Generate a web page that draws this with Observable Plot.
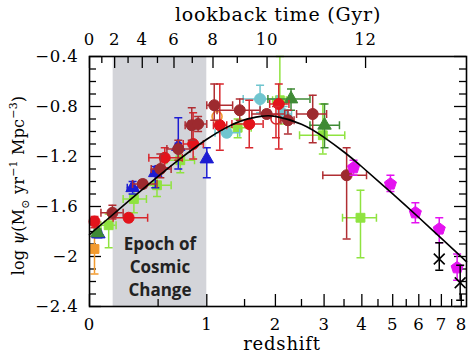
<!DOCTYPE html>
<html><head><meta charset="utf-8">
<script src="https://cdn.jsdelivr.net/npm/d3@7"></script>
<script src="https://cdn.jsdelivr.net/npm/@observablehq/plot@0.6"></script>
<style>body{margin:0;background:#fff}</style>
</head><body><div id="chart"></div>
<script>
// ---- fit curve ----
const fitZ      = [0, 0.05, 0.1, 0.2, 0.3, 0.4, 0.5, 0.7, 1, 1.25, 1.5, 1.75, 2, 2.5, 3, 3.5, 4, 5, 6, 7, 8, 8.28];
const fitLogPsi = [-1.825, -1.768, -1.714, -1.613, -1.521, -1.437, -1.359, -1.223, -1.062, -0.967, -0.907, -0.879, -0.879, -0.942, -1.047, -1.164, -1.282, -1.499, -1.688, -1.855, -2.003, -2.041];

// ---- data points: [z, logψ, zlo, zhi, logψ upper end, logψ lower end] ----
const orangeSquares = [[0.03, -1.94, 0.01, 0.05, -1.84, -2.14]];
const orangeOpen    = [[1.125, -0.88]];
const lightGreen = [
  [0.12, -1.75, 0.07, 0.17, -1.66, -1.93],
  [0.30, -1.54, 0.22, 0.40, -1.45, -1.65],
  [0.49, -1.43, 0.37, 0.62, -1.35, -1.52],
  [0.71, -1.23, 0.58, 0.86, -1.15, -1.33],
  [1.40, -0.97, 1.20, 1.60, -0.90, -1.05],
  [2.08, -0.75, 1.95, 2.20, -0.40, -0.94],
  [2.97, -1.03, 2.46, 3.52, -0.78, -1.18],
  [3.96, -1.69, 3.46, 4.45, -1.47, -2.01]
];
const cyanCircles = [
  [1.25, -1.01, 1.10, 1.43, -0.98, -1.04],
  [1.74, -0.74, 1.48, 2.03, -0.63, -0.85],
  [2.15, -0.86, 2.05, 2.30, -0.80, -0.90]
];
const blueTriangles = [
  [0.054, -1.82, 0.04, 0.07, -1.80, -1.85],
  [0.29, -1.45, 0.25, 0.33, -1.40, -1.50],
  [0.475, -1.33, 0.44, 0.51, -1.28, -1.45],
  [0.69, -1.12, 0.66, 0.72, -0.89, -1.30],
  [1.00, -1.22, null, null, -1.13, -1.37]
];
const darkGreenTriangles = [
  [0.048, -1.81, 0.03, 0.07, -1.78, -1.84],
  [2.29, -0.74, 1.87, 2.68, -0.66, -0.83],
  [3.01, -0.95, 2.68, 3.38, -0.78, -1.13]
];
const redCircles = [
  [0.03, -1.72, 0.01, 0.05, -1.68, -1.77],
  [0.26, -1.69, 0.15, 0.41, -1.66, -1.72],
  [0.56, -1.21, 0.42, 0.73, -1.13, -1.29],
  [0.845, -1.10, 0.74, 0.96, -0.85, -1.22],
  [1.16, -0.95, 1.08, 1.25, -0.62, -1.15],
  [1.57, -0.94, 1.32, 1.79, -0.75, -1.13],
  [2.06, -0.78, 1.90, 2.25, -0.62, -1.14]
];
const redOpen = [[2.01, -0.90, null, null, -0.80, -1.05]];
const brownCircles = [
  [0.145, -1.65, 0.07, 0.22, -1.59, -1.70],
  [0.37, -1.42, 0.29, 0.49, -1.39, -1.45],
  [0.52, -1.30, 0.44, 0.62, -1.18, -1.37],
  [0.69, -1.14, 0.58, 0.81, -1.07, -1.23],
  [0.83, -0.95, 0.76, 0.90, -0.81, -1.07],
  [0.90, -0.94, 0.80, 1.00, -0.88, -1.00],
  [1.09, -0.79, 1.00, 1.33, -0.62, -0.91],
  [1.43, -0.83, 1.125, 1.74, -0.74, -0.91],
  [1.85, -0.86, 1.61, 2.17, -0.83, -0.89],
  [2.23, -0.91, 2.10, 2.35, -0.83, -1.02],
  [2.74, -0.86, 2.40, 3.06, -0.71, -1.09],
  [3.57, -1.35, 2.97, 4.14, -1.13, -1.86]
];
const magentaPentagons = [
  [3.76, -1.29, null, null, -1.23, -1.35],
  [4.92, -1.42, null, null, -1.35, -1.48],
  [5.86, -1.65, null, null, -1.57, -1.73],
  [6.90, -1.78, null, null, -1.69, -1.89],
  [7.78, -2.09, null, null, -1.98, -2.19]
];
const blackCrosses = [
  [6.90, -2.02, null, null, -1.89, -2.11],
  [7.94, -2.21, null, null, -2.07, -2.35]
];

// ---- ticks / labels ----
const zMajorTicks = [0, 1, 2, 3, 4, 5, 6, 7, 8];
const zMinorTicks = [0.5, 1.5, 2.5, 3.5, 4.5, 5.5, 6.5, 7.5];
const lookbackMajor = [0, 2, 4, 6, 8, 10, 12];
const lookbackMinor = [1, 3, 5, 7, 9, 11];
const yMajorTicks = [-0.4, -0.8, -1.2, -1.6, -2, -2.4];
const yMinorTicks = d3.range(-24, -3).filter(k => k % 4 !== 0).map(k => k / 10);
const shadeZ = [0.15, 1];
const epochText = "Epoch of\nCosmic\nChange";
const xTitle = "redshift";
const topTitle = "lookback time (Gyr)";
const yTitle = "log ψ(M⊙ yr−1 Mpc−3)";

const W = 474, H = 355, mL = 89, mR = 8, mT = 56, mB = 49;
const innerW = W - mL - mR, innerH = H - mT - mB;

// flat ΛCDM, H0 = 70, Ωm = 0.3 : lookback time (Gyr) -> 1+z
const A = 2 / (3 * Math.sqrt(0.7)) * 977.8 / 70;
const t0 = A * Math.asinh(Math.sqrt(0.7 / 0.3));
const onePlusZ = tL => Math.pow(Math.sinh((t0 - tL) / A) / Math.sqrt(0.7 / 0.3), -2 / 3);

// custom symbols
const capH = {draw(c, s) { const w = Math.sqrt(s / Math.PI); c.moveTo(-w, 0); c.lineTo(w, 0); }};
const capV = {draw(c, s) { const w = Math.sqrt(s / Math.PI); c.moveTo(0, -w); c.lineTo(0, w); }};
const pentagon = {draw(c, s) {
  const r = Math.sqrt(s / Math.PI) * 1.15;
  for (let i = 0; i < 5; i++) {
    const a = -Math.PI / 2 + i * 2 * Math.PI / 5;
    const px = r * Math.cos(a), py = r * Math.sin(a);
    if (i === 0) c.moveTo(px, py); else c.lineTo(px, py);
  }
  c.closePath();
}};

const series = [
  {rows: orangeSquares, color: "#f29a2e", symbol: "square", r: 5, fill: true},
  {rows: orangeOpen, color: "#f29a2e", symbol: "circle", r: 5, fill: false},
  {rows: lightGreen, color: "#8fe340", symbol: "square", r: 5, fill: true},
  {rows: cyanCircles, color: "#6fc5cf", symbol: "circle", r: 5.5, fill: true},
  {rows: blueTriangles, color: "#1c1cd2", symbol: "triangle", r: 5, fill: true},
  {rows: darkGreenTriangles, color: "#3f8a35", symbol: "triangle", r: 5, fill: true},
  {rows: redCircles, color: "#e3131b", ecolor: "#d8272d", symbol: "circle", r: 5.5, fill: true},
  {rows: redOpen, color: "#d8272d", symbol: "circle", r: 5, fill: false},
  {rows: brownCircles, color: "#9d2a2f", ecolor: "#b02e33", symbol: "circle", r: 5.5, fill: true},
  {rows: magentaPentagons, color: "#e412f0", symbol: pentagon, r: 5.5, fill: true},
  {rows: blackCrosses, color: "#000000", symbol: "times", r: 5, fill: false}
];

const marks = [];
marks.push(Plot.rect([shadeZ], {x1: d => 1 + d[0], x2: d => 1 + d[1], fill: "#d3d4d9"}));

// inward tick marks
const tk = {stroke: "black", strokeWidth: 1.3};
marks.push(Plot.tickY(yMajorTicks, {y: d => d, insetRight: innerW - 12, ...tk}));
marks.push(Plot.tickY(yMajorTicks, {y: d => d, insetLeft: innerW - 12, ...tk}));
marks.push(Plot.tickY(yMinorTicks, {y: d => d, insetRight: innerW - 7, ...tk}));
marks.push(Plot.tickY(yMinorTicks, {y: d => d, insetLeft: innerW - 7, ...tk}));
marks.push(Plot.tickX(zMajorTicks, {x: z => 1 + z, insetTop: innerH - 12, ...tk}));
marks.push(Plot.tickX(zMinorTicks, {x: z => 1 + z, insetTop: innerH - 7, ...tk}));
marks.push(Plot.tickX(lookbackMajor, {x: onePlusZ, insetBottom: innerH - 12, ...tk}));
marks.push(Plot.tickX(lookbackMinor, {x: onePlusZ, insetBottom: innerH - 7, ...tk}));

for (const s of series) {
  const pts = s.rows.map(r => ({z: r[0], v: r[1], zlo: r[2], zhi: r[3], vhi: r[4], vlo: r[5]}));
  const ve = pts.filter(p => p.vlo != null);
  const he = pts.filter(p => p.zlo != null);
  const ec = s.ecolor || s.color;
  marks.push(Plot.ruleX(ve, {x: p => 1 + p.z, y1: "vlo", y2: "vhi", stroke: ec, strokeWidth: 1.5}));
  marks.push(Plot.dot(ve, {x: p => 1 + p.z, y: "vlo", symbol: capH, r: 4, fill: "none", stroke: ec, strokeWidth: 1.5}));
  marks.push(Plot.dot(ve, {x: p => 1 + p.z, y: "vhi", symbol: capH, r: 4, fill: "none", stroke: ec, strokeWidth: 1.5}));
  marks.push(Plot.ruleY(he, {y: "v", x1: p => 1 + p.zlo, x2: p => 1 + p.zhi, stroke: ec, strokeWidth: 1.5}));
  marks.push(Plot.dot(he, {x: p => 1 + p.zlo, y: "v", symbol: capV, r: 4, fill: "none", stroke: ec, strokeWidth: 1.5}));
  marks.push(Plot.dot(he, {x: p => 1 + p.zhi, y: "v", symbol: capV, r: 4, fill: "none", stroke: ec, strokeWidth: 1.5}));
  marks.push(Plot.dot(pts, {x: p => 1 + p.z, y: "v", symbol: s.symbol, r: s.r,
    fill: s.fill ? s.color : "none", stroke: s.color, strokeWidth: s.fill ? 1 : 1.6}));
}

marks.push(Plot.line(fitZ.map((z, i) => ({x: 1 + z, y: fitLogPsi[i]})),
  {x: "x", y: "y", curve: "natural", stroke: "black", strokeWidth: 1.6}));

marks.push(Plot.text([epochText], {x: Math.sqrt((1 + shadeZ[0]) * (1 + shadeZ[1])), y: -2.07, text: d => d,
  fontFamily: "Open Sans", fontWeight: "bold", fontSize: 17, lineHeight: 1.35, fill: "#222", lineAnchor: "middle"}));

marks.push(Plot.frame({stroke: "black", strokeWidth: 1.6}));

// tick labels
const fmt = d3.format("~g");
marks.push(Plot.text(yMajorTicks, {y: d => d, frameAnchor: "left", dx: -11, textAnchor: "end", text: fmt}));
marks.push(Plot.text(zMajorTicks, {x: z => 1 + z, frameAnchor: "bottom", dy: 18, lineAnchor: "middle", text: z => String(z)}));
marks.push(Plot.text(lookbackMajor, {x: onePlusZ, frameAnchor: "top", dy: -17, lineAnchor: "middle", text: t => String(t)}));

// titles
marks.push(Plot.text([xTitle], {frameAnchor: "bottom", dy: 38, dx: 4, text: d => d, fontSize: 18, lineAnchor: "middle"}));
marks.push(Plot.text([topTitle], {frameAnchor: "top", dy: -42, text: d => d, fontSize: 19, lineAnchor: "middle"}));
marks.push(Plot.text([yTitle], {frameAnchor: "left", dx: 18 - mL, dy: 4, rotate: -90, text: d => d,
  fontSize: 16, textAnchor: "middle", lineAnchor: "middle"}));

const chart = Plot.plot({
  width: W, height: H,
  marginLeft: mL, marginRight: mR, marginTop: mT, marginBottom: mB,
  style: {fontFamily: "DejaVu Serif", fontSize: "16.5px", letterSpacing: "0.8px", background: "#fff", color: "#000"},
  x: {type: "log", domain: [1, 9.28], axis: null},
  y: {domain: [-2.4, -0.4], axis: null},
  marks
});
document.getElementById("chart").appendChild(chart);

// the annotation uses normal letter spacing
d3.select(chart).selectAll("text").filter(function() { return this.textContent.startsWith("Epoch"); })
  .style("letter-spacing", "0px");

// rich y label: italic ψ, subscript ⊙, superscripts
const yl = d3.select(chart).selectAll("text").filter(function() { return this.textContent === yTitle; });
if (!yl.empty()) {
  yl.text(null).style("letter-spacing", "0.2px");
  const parts = [
    ["log ", {}], ["ψ", {italic: true}], ["(M", {}], ["⊙", {sub: true}], [" yr", {}],
    ["−1", {sup: true}], [" Mpc", {}], ["−3", {sup: true}], [")", {}]
  ];
  let shift = 0;
  for (const [t, o] of parts) {
    const target = o.sub ? 5 : o.sup ? -7 : 0;
    const ts = yl.append("tspan").text(t).attr("dy", target - shift);
    shift = target;
    if (o.italic) ts.attr("font-style", "italic");
    if (o.sub || o.sup) ts.attr("font-size", 11);
  }
}
</script></body></html>
